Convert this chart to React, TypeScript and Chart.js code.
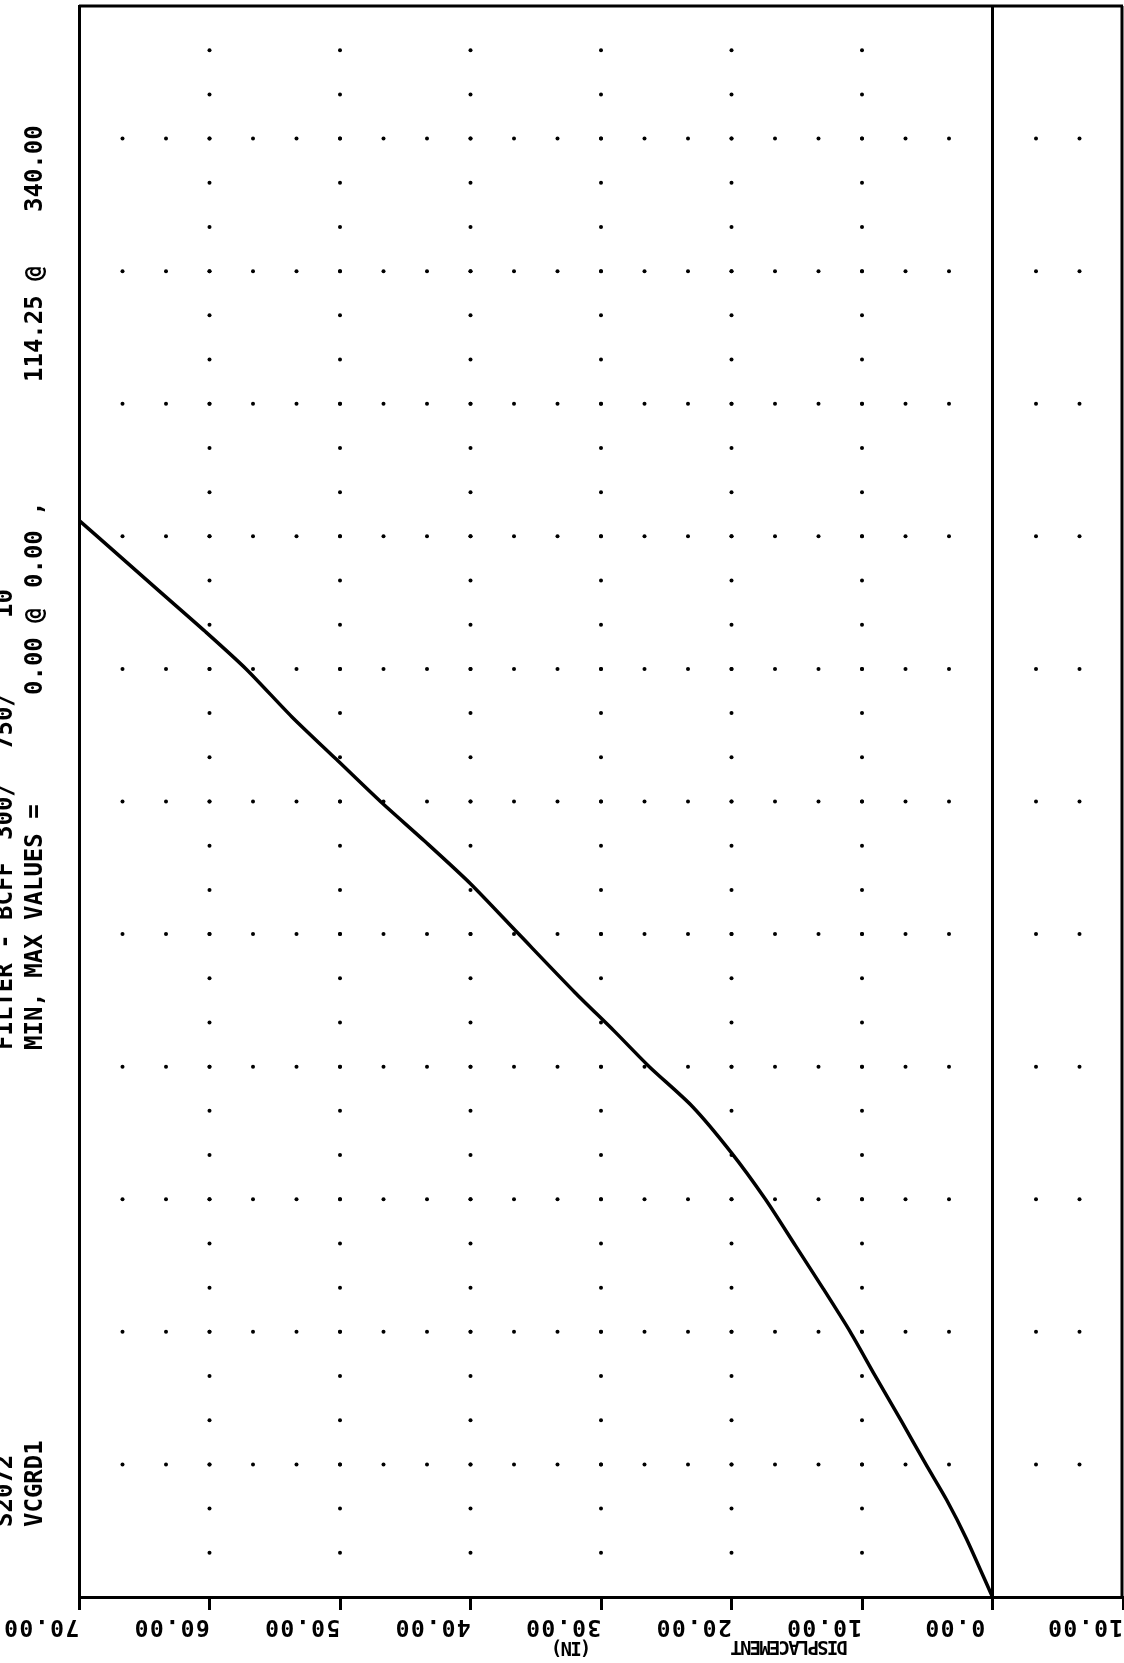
import React, { useEffect, useRef } from "react";
import { Chart, registerables } from "chart.js";

Chart.register(...registerables);

// ---- data ----
const displacementIn = [
  0, 2.0, 3.5, 5.1, 7.0, 9.0, 10.9, 13.0, 15.1, 17.4, 20.0, 23.0, 26.3, 29.0,
  32.0, 36.3, 40.0, 43.5, 46.9, 50.3, 53.7, 57.2, 60.3, 64.0, 68.6, 70.0,
];
const responseValues = [
  0, 4.4, 7.3, 10.0, 13.3, 16.7, 20.0, 23.3, 26.5, 30.0, 33.5, 37.0, 40.0, 42.7,
  45.6, 50.0, 53.8, 57.0, 60.0, 63.2, 66.4, 70.0, 72.8, 76.0, 80.0, 81.2,
];
const xTickValues = [70, 60, 50, 40, 30, 20, 10, 0, -10];
const xTickLabels = ["70.00", "60.00", "50.00", "40.00", "30.00", "20.00", "10.00", "0.00", "10.00"];
const gridColumnValues = [60, 50, 40, 30, 20, 10];
const gridRowValues = [10, 20, 30, 40, 50, 60, 70, 80, 90, 100, 110];
const xAxisTitle = ["DISPLACEMENT", "(IN)"];
const headerLine1 = ["S2072", "FILTER - BCFF", "300/", "750/", "10"];
const headerLine2 = ["VCGRD1", "MIN, MAX VALUES =", "0.00 @", "0.00 ,", "114.25 @", "340.00"];

const X_MIN = -10;
const X_MAX = 70;
const Y_MIN = 0;
const Y_MAX = 120;
const DOT_STEP = 10 / 3;

// ---- layout (positions of free text on the page) ----
const W = 1124;
const H = 1663;
const header1X = 6;
const header1Bottoms = [1527, 1050, 840, 750, 618];
const header2X = 36;
const header2Bottoms = [1527, 1050, 695, 588, 382, 212];
const tickLabelY = 1626;
const tickLabelShift = -38;
const titlePos = [
  { x: 790, y: 1646 },
  { x: 572, y: 1647 },
];

const paperPlugin = {
  id: "paper",
  beforeDatasetsDraw(chart: any) {
    const { ctx, scales } = chart;
    const xs = scales.x;
    const ys = scales.y;
    ctx.save();
    ctx.fillStyle = "#000";
    const dot = (px: number, py: number) => {
      ctx.beginPath();
      ctx.arc(px, py, 2, 0, Math.PI * 2);
      ctx.fill();
    };
    // dotted horizontal rows
    for (const rv of gridRowValues) {
      const py = ys.getPixelForValue(rv);
      for (let k = 1; X_MAX - k * DOT_STEP > X_MIN + 0.01; k++) {
        const v = X_MAX - k * DOT_STEP;
        if (Math.abs(v) < 0.01) continue;
        dot(xs.getPixelForValue(v), py);
      }
    }
    // dotted vertical columns
    for (const cv of gridColumnValues) {
      const px = xs.getPixelForValue(cv);
      for (let k = 1; Y_MIN + k * DOT_STEP < Y_MAX - 0.01; k++) {
        dot(px, ys.getPixelForValue(Y_MIN + k * DOT_STEP));
      }
    }
    ctx.restore();
  },
  afterDraw(chart: any) {
    const { ctx, chartArea, scales } = chart;
    const xs = scales.x;
    ctx.save();
    // top and right frame lines
    ctx.strokeStyle = "#000";
    ctx.lineWidth = 3;
    ctx.beginPath();
    ctx.moveTo(chartArea.left, chartArea.top);
    ctx.lineTo(chartArea.right, chartArea.top);
    ctx.moveTo(chartArea.right - 1, chartArea.top);
    ctx.lineTo(chartArea.right - 1, chartArea.bottom);
    ctx.stroke();

    // upside-down tick labels
    ctx.fillStyle = "#000";
    ctx.font = 'bold 23px "DejaVu Sans Mono"';
    (ctx as any).letterSpacing = "1.5px";
    ctx.textAlign = "center";
    ctx.textBaseline = "middle";
    xs.ticks.forEach((t: any, i: number) => {
      const px = xs.getPixelForValue(t.value);
      ctx.save();
      ctx.translate(px + tickLabelShift, tickLabelY);
      ctx.rotate(Math.PI);
      ctx.fillText(xTickLabels[i] ?? "", 0, 0);
      ctx.restore();
    });

    // upside-down axis title
    ctx.font = 'bold 19px "DejaVu Sans Mono"';
    (ctx as any).letterSpacing = "-1.8px";
    xAxisTitle.forEach((txt, i) => {
      ctx.save();
      ctx.translate(titlePos[i].x, titlePos[i].y);
      ctx.rotate(Math.PI);
      ctx.fillText(txt, 0, 0);
      ctx.restore();
    });

    // rotated header text on the left
    ctx.font = 'bold 24px "DejaVu Sans Mono"';
    (ctx as any).letterSpacing = "0px";
    ctx.textAlign = "left";
    const drawCol = (texts: string[], bottoms: number[], x: number) => {
      texts.forEach((txt, i) => {
        ctx.save();
        ctx.translate(x, bottoms[i]);
        ctx.rotate(-Math.PI / 2);
        ctx.fillText(txt, 0, 0);
        ctx.restore();
      });
    };
    drawCol(headerLine1, header1Bottoms, header1X);
    drawCol(headerLine2, header2Bottoms, header2X);
    ctx.restore();
  },
};

export default function App() {
  const canvasRef = useRef<HTMLCanvasElement | null>(null);

  useEffect(() => {
    if (!canvasRef.current) return;
    const points = displacementIn.map((d, i) => ({ x: d, y: responseValues[i] }));
    const chart = new Chart(canvasRef.current, {
      type: "scatter",
      data: {
        datasets: [
          {
            data: points,
            showLine: true,
            borderColor: "#000",
            borderWidth: 3.5,
            pointRadius: 0,
            tension: 0.25,
          },
        ],
      },
      options: {
        responsive: false,
        animation: false,
        events: [],
        layout: { padding: { left: 79, right: 1, top: 6, bottom: 53 } },
        plugins: { legend: { display: false }, tooltip: { enabled: false } },
        scales: {
          x: {
            type: "linear",
            position: "bottom",
            min: X_MIN,
            max: X_MAX,
            reverse: true,
            afterBuildTicks: (scale: any) => {
              scale.ticks = xTickValues.map((v) => ({ value: v }));
            },
            ticks: { display: false },
            grid: {
              display: true,
              drawOnChartArea: true,
              drawTicks: true,
              tickLength: 13,
              tickWidth: 3,
              tickColor: "#000",
              lineWidth: 3,
              color: (c: any) => (c.tick && c.tick.value === 0 ? "#000" : "rgba(0,0,0,0)"),
            },
            border: { display: true, color: "#000", width: 3 },
          },
          y: {
            type: "linear",
            position: "left",
            min: Y_MIN,
            max: Y_MAX,
            ticks: { display: false },
            grid: { display: false, drawTicks: false },
            border: { display: true, color: "#000", width: 3 },
          },
        },
      },
      plugins: [paperPlugin],
    });
    return () => chart.destroy();
  }, []);

  return (
    <div style={{ position: "absolute", left: 0, top: 0, width: W, height: H, background: "#fff" }}>
      <canvas ref={canvasRef} width={W} height={H} style={{ display: "block" }} />
    </div>
  );
}
